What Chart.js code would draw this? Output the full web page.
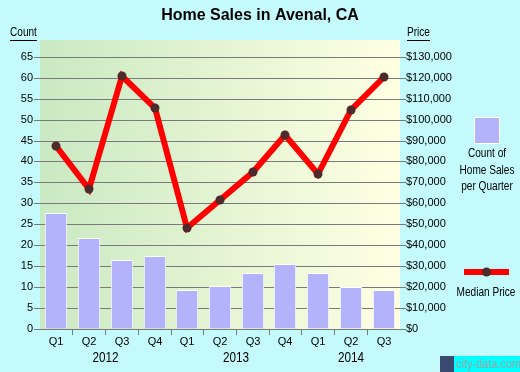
<!DOCTYPE html>
<html>
<head>
<meta charset="utf-8">
<script src="https://cdn.jsdelivr.net/npm/chart.js@4/dist/chart.umd.min.js"></script>
<style>
  body{margin:0;background:#c4fafc;}
  #wrap{position:relative;width:520px;height:372px;}
</style>
</head>
<body>
<div id="wrap"><canvas id="chart" width="520" height="372"></canvas></div>
<script>
// data
const quarters = ['Q1','Q2','Q3','Q4','Q1','Q2','Q3','Q4','Q1','Q2','Q3'];
const years = ['2012','2013','2014'];
const yearStarts = [0, 4, 8];
const yearEnds = [3, 7, 10];
const salesCount = [27.6, 21.7, 16.4, 17.4, 9.3, 10.2, 13.3, 15.4, 13.3, 10.1, 9.2];
const medianPrice = [87300, 66700, 121000, 105700, 48100, 61400, 74800, 92400, 73900, 104800, 120500];
const countTicks = [0,5,10,15,20,25,30,35,40,45,50,55,60,65];
const priceTicks = [0,10000,20000,30000,40000,50000,60000,70000,80000,90000,100000,110000,120000,130000];

const FONT = '"Liberation Sans", Arial, sans-serif';
const GRID = '#7a7a7a';

// narrow text: draw horizontally squeezed
function narrowText(ctx, txt, x, y, size, align){
  ctx.save();
  ctx.font = size + 'px ' + FONT;
  ctx.textAlign = align || 'center';
  ctx.translate(x, y);
  ctx.scale(0.84, 1);
  ctx.fillText(txt, 0, 0);
  const w = ctx.measureText(txt).width * 0.84;
  ctx.restore();
  return w;
}

const decor = {
  id: 'decor',
  beforeDraw(chart){
    const {ctx, chartArea:a} = chart;
    const g = ctx.createLinearGradient(a.left, 0, a.right, 0);
    g.addColorStop(0, '#c9e9c3');
    g.addColorStop(1, '#ffffe2');
    ctx.save();
    ctx.fillStyle = g;
    ctx.fillRect(a.left, a.top, a.right - a.left, a.bottom - a.top);
    ctx.restore();
  },
  afterDraw(chart){
    const {ctx} = chart;
    const x = chart.scales.x;
    ctx.save();
    ctx.textBaseline = 'middle';
    // title
    ctx.fillStyle = '#000';
    ctx.font = 'bold 16px ' + FONT;
    ctx.textAlign = 'center';
    ctx.fillText('Home Sales in Avenal, CA', 260, 16);
    // axis captions
    let w = narrowText(ctx, 'Count', 10, 33, 12, 'left');
    ctx.fillRect(10, 40, w, 1);
    w = narrowText(ctx, 'Price', 407, 33, 12, 'left');
    ctx.fillRect(407, 40, w, 1);
    // year labels
    years.forEach((y, i) => {
      const cx = (x.getPixelForValue(yearStarts[i]) + x.getPixelForValue(yearEnds[i])) / 2;
      narrowText(ctx, y, cx, 358, 14);
    });
    // legend: bars
    ctx.fillStyle = '#fff';
    ctx.fillRect(474, 117, 26, 27);
    ctx.fillStyle = '#b3b3fc';
    ctx.fillRect(475, 118, 24, 25);
    ctx.fillStyle = '#000';
    ['Count of','Home Sales','per Quarter'].forEach((t, i) => narrowText(ctx, t, 487, 154 + i * 16.5, 12));
    // legend: line
    ctx.fillStyle = '#ff0000';
    ctx.fillRect(464, 269, 45, 6);
    ctx.fillStyle = '#4e2a2a';
    ctx.beginPath();
    ctx.arc(486.5, 272, 4.5, 0, Math.PI * 2);
    ctx.fill();
    ctx.fillStyle = '#000';
    narrowText(ctx, 'Median Price', 486, 293, 12);
    // logo
    ctx.fillStyle = '#3a4a70';
    ctx.fillRect(440, 356, 14, 16);
    ctx.fillStyle = '#00ffff';
    ctx.fillRect(454, 356, 66, 16);
    ctx.fillStyle = '#a0a0a0';
    narrowText(ctx, 'city-data.com', 456, 364, 13, 'left');
    ctx.restore();
  }
};

new Chart(document.getElementById('chart'), {
  data: {
    labels: quarters,
    datasets: [
      {
        type: 'line', yAxisID: 'y1', data: medianPrice, order: 0,
        borderColor: '#ff0000', borderWidth: 6, tension: 0,
        pointRadius: 4.5, pointBackgroundColor: '#4e2a2a', pointBorderWidth: 0
      },
      {
        type: 'bar', yAxisID: 'y', data: salesCount, order: 1,
        backgroundColor: '#b3b3fc', borderColor: '#ffffff', borderWidth: 1,
        barPercentage: 0.7, categoryPercentage: 1
      }
    ]
  },
  options: {
    responsive: false,
    animation: false,
    layout: { padding: { top: 40, left: 0, right: 0, bottom: 0 } },
    plugins: { legend: { display: false }, tooltip: { enabled: false } },
    scales: {
      x: {
        offset: true, alignToPixels: true,
        grid: { display: true, drawOnChartArea: false, offset: true, color: GRID, tickLength: 6 },
        border: { display: false },
        ticks: { color: '#000', padding: 0, font: { size: 11, family: FONT } },
        afterFit(s){ s.height = 43; }
      },
      y: {
        position: 'left', min: 0, max: 69, alignToPixels: true,
        grid: { color: GRID, lineWidth: 1, tickLength: 6 },
        border: { display: false },
        ticks: { color: '#000', padding: 1, font: { size: 11, family: FONT } },
        afterBuildTicks(s){ s.ticks = countTicks.map(v => ({ value: v })); },
        afterFit(s){ s.width = 40; }
      },
      y1: {
        position: 'right', min: 0, max: 138000, alignToPixels: true,
        grid: { drawOnChartArea: false, color: GRID, tickLength: 6 },
        border: { display: false },
        ticks: { color: '#000', padding: 0, font: { size: 11, family: FONT },
          callback: v => '$' + v.toLocaleString('en-US') },
        afterBuildTicks(s){ s.ticks = priceTicks.map(v => ({ value: v })); },
        afterFit(s){ s.width = 120; }
      }
    }
  },
  plugins: [decor]
});
</script>
</body>
</html>
